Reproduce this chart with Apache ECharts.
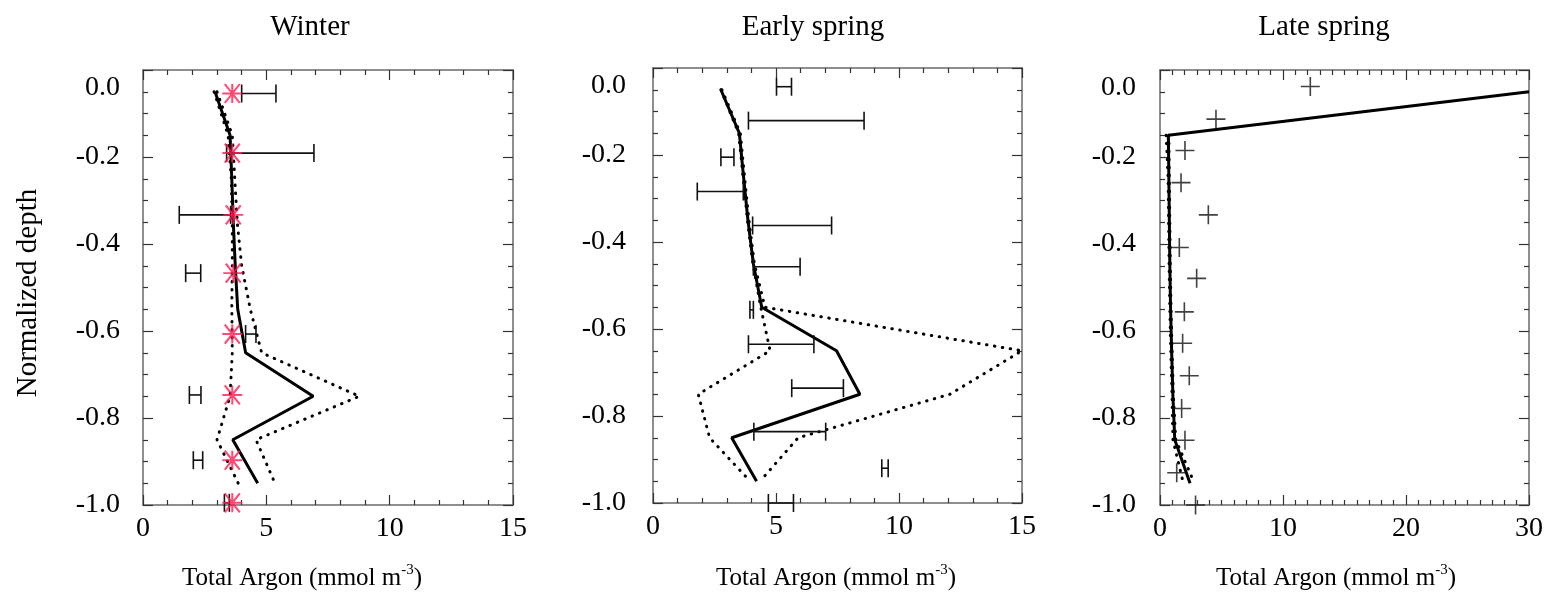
<!DOCTYPE html>
<html>
<head>
<meta charset="utf-8">
<script src="https://cdn.jsdelivr.net/npm/echarts@6/dist/echarts.min.js"></script>
<style>html,body{margin:0;padding:0;background:#fff;}#c{width:1553px;height:596px;}</style>
</head>
<body>
<div id="c"></div>
<script>
// ---------- data ----------
const panelTitles = ['Winter', 'Early spring', 'Late spring'];
const modelDepth = [-0.05, -0.15, -0.25, -0.35, -0.45, -0.55, -0.65, -0.75, -0.85, -0.95];

// Winter
const winterModel = [2.92, 3.53, 3.60, 3.66, 3.74, 3.84, 4.16, 6.90, 3.64, 4.65];
const winterLow   = [2.88, 3.45, 3.58, 3.62, 3.62, 3.60, 3.62, 3.53, 3.00, 3.86];
const winterHigh  = [3.00, 3.62, 3.72, 3.82, 4.00, 4.35, 4.81, 8.77, 4.58, 5.35];
const winterObsDepth = [-0.054, -0.191, -0.333, -0.467, -0.607, -0.747, -0.897, -0.995];
const winterObs      = [3.62, 3.62, 3.66, 3.66, 3.62, 3.62, 3.62, 3.62];
const winterErrDepth = [-0.054, -0.191, -0.333, -0.467, -0.607, -0.747, -0.897, -0.995];
const winterErrLow   = [4.00, 3.39, 1.47, 1.73, 4.16, 1.88, 2.04, 3.30];
const winterErrHigh  = [5.39, 6.93, 3.55, 2.34, 4.58, 2.35, 2.42, 3.50];

// Early spring
const esModel = [2.76, 3.51, 3.68, 3.86, 4.08, 4.42, 7.46, 8.41, 3.20, 4.21];
const esLow   = [2.76, 3.48, 3.66, 3.84, 4.06, 4.38, 4.76, 1.84, 2.30, 3.95];
const esHigh  = [2.80, 3.55, 3.72, 3.90, 4.12, 4.55, 15.0, 12.07, 5.90, 4.35];
const esErrDepth = [-0.043, -0.121, -0.205, -0.284, -0.362, -0.457, -0.556, -0.635, -0.736, -0.836, -0.920, -1.0];
const esErrLow   = [5.02, 3.88, 2.76, 1.80, 4.05, 4.08, 3.94, 3.88, 5.64, 4.10, 9.30, 4.69];
const esErrHigh  = [5.63, 8.58, 3.29, 3.67, 7.26, 5.98, 4.08, 6.54, 7.74, 7.02, 9.56, 5.71];

// Late spring
const lsModel = [30.0, 0.68, 0.72, 0.76, 0.80, 0.86, 0.95, 1.05, 1.20, 2.44];
const lsLow   = [null, 0.50, 0.66, 0.70, 0.74, 0.80, 0.88, 0.98, 1.05, 1.90];
const lsHigh  = [null, 0.72, 0.76, 0.80, 0.84, 0.90, 0.99, 1.09, 1.28, 2.80];
const lsObsDepth = [-0.038, -0.113, -0.185, -0.259, -0.333, -0.408, -0.479, -0.556, -0.628, -0.703, -0.778, -0.851, -0.926, -1.0];
const lsObs      = [12.22, 4.55, 2.03, 1.71, 3.93, 1.57, 2.98, 1.98, 1.84, 2.38, 1.76, 2.03, 1.36, 2.89];

const xMax = [15, 15, 30];
const xInterval = [5, 5, 10];
const xMinorSplit = [5, 5, 10];

// ---------- chart ----------
const FONT = '"Liberation Serif", "Times New Roman", serif';
const FRAME = '#6a6a6a';
const STAR_COLOR = '#ff1a4f';

const grids = [
  {left: 143, top: 70, width: 370, height: 435},
  {left: 653, top: 68, width: 369, height: 435},
  {left: 1160, top: 70, width: 369, height: 435}
];
const yLabelMargin = [23, 27, 24];

function pairs(xs, ys) {
  return xs.map((v, i) => (v === null ? [null, null] : [v, ys[i]]));
}

const xAxes = [], yAxes = [];
grids.forEach((g, i) => {
  const common = {
    gridIndex: i, type: 'value', min: 0, max: xMax[i], interval: xInterval[i],
    axisLine: {show: true, onZero: false, lineStyle: {color: FRAME, width: 1.5}},
    axisTick: {show: true, inside: true, length: 10, lineStyle: {color: '#333', width: 1.2}},
    minorTick: {show: true, splitNumber: xMinorSplit[i], length: 5, lineStyle: {color: '#333', width: 1.2}},
    splitLine: {show: false}
  };
  xAxes.push(Object.assign({}, common, {
    position: 'bottom',
    axisLabel: {show: true, fontFamily: FONT, fontSize: 28, color: '#000', margin: 10}
  }));
  xAxes.push(Object.assign({}, common, {position: 'top', axisLabel: {show: false}}));
  const ycommon = {
    gridIndex: i, type: 'value', min: -1, max: 0, interval: 0.2,
    axisLine: {show: true, onZero: false, lineStyle: {color: FRAME, width: 1.5}},
    axisTick: {show: true, inside: true, length: 10, lineStyle: {color: '#333', width: 1.2}},
    minorTick: {show: true, splitNumber: 4, length: 5, lineStyle: {color: '#333', width: 1.2}},
    splitLine: {show: false}
  };
  yAxes.push(Object.assign({}, ycommon, {
    position: 'left',
    axisLabel: {
      show: true, fontFamily: FONT, fontSize: 28, color: '#000', margin: yLabelMargin[i],
      formatter: function (v) {
        const s = (Math.abs(v) < 1e-9) ? '0.0' : v.toFixed(1);
        return Math.abs(v) < 1e-9 ? '{top|' + s + '}' : s;
      },
      rich: {top: {fontFamily: FONT, fontSize: 28, color: '#000', padding: [36, 0, 0, 0]}}
    }
  }));
  yAxes.push(Object.assign({}, ycommon, {position: 'right', axisLabel: {show: false}}));
});

function lineSeries(i, xs, dashed) {
  return {
    type: 'line', xAxisIndex: i * 2, yAxisIndex: i * 2,
    data: pairs(xs, modelDepth), symbol: 'none', silent: true, clip: true,
    connectNulls: false,
    lineStyle: dashed
      ? {color: '#000', width: 3, type: [0.5, 7.5], cap: 'round'}
      : {color: '#000', width: 3},
    z: dashed ? 3 : 4
  };
}

function errSeries(i, depth, lo, hi) {
  return {
    type: 'custom', xAxisIndex: i * 2, yAxisIndex: i * 2, silent: true,
    data: depth.map((d, k) => [lo[k], hi[k], d]),
    encode: {x: [0, 1], y: 2},
    renderItem: function (params, api) {
      const a = api.coord([api.value(0), api.value(2)]);
      const b = api.coord([api.value(1), api.value(2)]);
      const h = 9;
      const st = {stroke: '#111', lineWidth: 1.6, fill: null};
      return {
        type: 'group',
        children: [
          {type: 'line', shape: {x1: a[0], y1: a[1], x2: b[0], y2: b[1]}, style: st},
          {type: 'line', shape: {x1: a[0], y1: a[1] - h, x2: a[0], y2: a[1] + h}, style: st},
          {type: 'line', shape: {x1: b[0], y1: b[1] - h, x2: b[0], y2: b[1] + h}, style: st}
        ]
      };
    },
    z: 5
  };
}

const series = [
  lineSeries(0, winterLow, true),
  lineSeries(0, winterHigh, true),
  lineSeries(0, winterModel, false),
  errSeries(0, winterErrDepth, winterErrLow, winterErrHigh),
  {
    type: 'scatter', xAxisIndex: 0, yAxisIndex: 0, silent: true, clip: false,
    data: pairs(winterObs, winterObsDepth),
    symbol: 'path://M-1,0L1,0M-0.75,-1L0.75,1M-0.75,1L0.75,-1M0,-1L0,1',
    symbolSize: [20, 19],
    itemStyle: {color: 'none', borderColor: STAR_COLOR, borderWidth: 2},
    z: 6
  },
  lineSeries(1, esLow, true),
  lineSeries(1, esHigh, true),
  lineSeries(1, esModel, false),
  errSeries(1, esErrDepth, esErrLow, esErrHigh),
  lineSeries(2, lsLow, true),
  lineSeries(2, lsHigh, true),
  lineSeries(2, lsModel, false),
  {
    type: 'scatter', xAxisIndex: 4, yAxisIndex: 4, silent: true, clip: false,
    data: pairs(lsObs, lsObsDepth),
    symbol: 'path://M-1,0L1,0M0,-1L0,1',
    symbolSize: [19, 19],
    itemStyle: {color: 'none', borderColor: '#111', borderWidth: 1.6},
    z: 6
  }
];

const titleX = [310, 813, 1324];
const nameX = [302, 836, 1336];
const graphic = [];
panelTitles.forEach((t, i) => {
  graphic.push({
    type: 'text', x: titleX[i], y: 27, silent: true,
    style: {text: t, fontFamily: FONT, fontSize: 29, fill: '#000', textAlign: 'center', textVerticalAlign: 'middle'}
  });
  graphic.push({
    type: 'text', x: nameX[i], y: 578, silent: true,
    style: {
      text: '{a|Total Argon (mmol m}{s|-3}{a|)}',
      textAlign: 'center', textVerticalAlign: 'middle',
      rich: {
        a: {fontFamily: FONT, fontSize: 25, fill: '#000', color: '#000', lineHeight: 30},
        s: {fontFamily: FONT, fontSize: 15, fill: '#000', color: '#000', verticalAlign: 'top', lineHeight: 30, padding: [0, 0, 12, 0]}
      }
    }
  });
});
graphic.push({
  type: 'text', x: 28, y: 293, rotation: Math.PI / 2, silent: true,
  style: {text: 'Normalized depth', fontFamily: FONT, fontSize: 29, fill: '#000', textAlign: 'center', textVerticalAlign: 'middle'}
});

const chart = echarts.init(document.getElementById('c'), null, {renderer: 'canvas'});
chart.setOption({
  animation: false,
  backgroundColor: '#fff',
  grid: grids.map(g => Object.assign({containLabel: false, show: false}, g)),
  xAxis: xAxes,
  yAxis: yAxes,
  series: series,
  graphic: graphic
});
</script>
</body>
</html>
